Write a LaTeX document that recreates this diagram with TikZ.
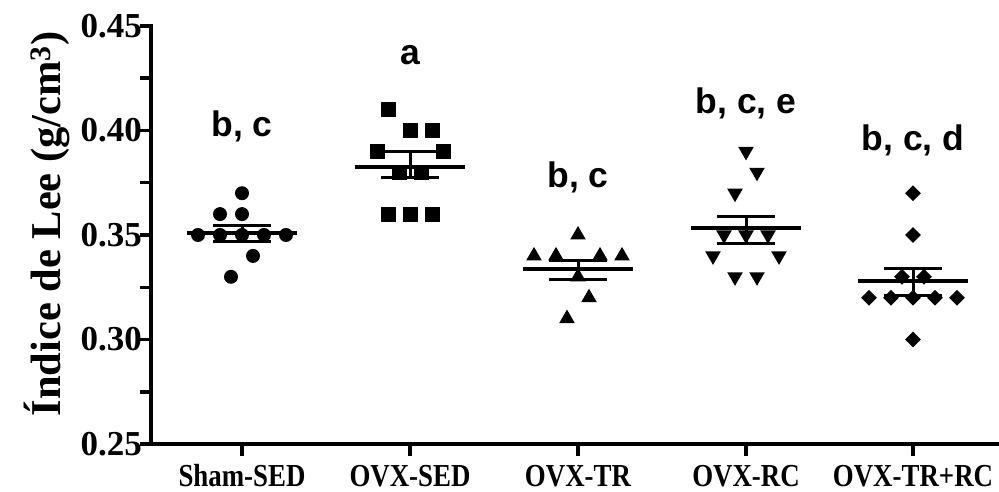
\documentclass[tikz,border=0pt]{standalone}
\usepackage{fontspec}
\setmainfont{Liberation Serif}
\newfontfamily\arialfont{Liberation Sans}
\usetikzlibrary{shapes.geometric}
\begin{document}
\begin{tikzpicture}[x=1pt,y=-1pt,
  axisline/.style={line width=4.2pt},
  tickline/.style={line width=3.5pt},
  meanline/.style={line width=3.2pt},
  semline/.style={line width=3pt},
  ticklab/.style={anchor=east,inner sep=0pt,font=\fontsize{35}{35}\selectfont\bfseries},
  grplab/.style={anchor=base,inner sep=0pt,font=\fontsize{32}{32}\selectfont\bfseries},
  siglab/.style={anchor=base,inner sep=0pt,font=\fontsize{35.5}{35.5}\selectfont\arialfont\bfseries},
  dotm/.style={circle,fill=black,inner sep=0pt,minimum size=14pt},
  sqm/.style={rectangle,fill=black,inner sep=0pt,minimum size=15pt},
  triup/.style={regular polygon,regular polygon sides=3,fill=black,inner sep=0pt,minimum size=18pt},
  tridn/.style={regular polygon,regular polygon sides=3,shape border rotate=180,fill=black,inner sep=0pt,minimum size=18pt},
  diam/.style={diamond,fill=black,inner sep=0pt,minimum width=16pt,minimum height=16pt}]
\useasboundingbox (0,0) rectangle (999,492);
% axes
\coordinate (ytop) at (151,26);
\coordinate (orig) at (151,444);
\coordinate (xend) at (999,444);
\draw[axisline,line cap=rect] (ytop) -- (orig) -- (xend);
% y ticks and labels
\foreach \v/\t [count=\i] in {0.45/0.45,0.40/0.40,0.35/0.35,0.30/0.30,0.25/0.25}{
  \coordinate (yt\i) at (151,{444-(\v-0.25)*2090});
  \coordinate (ytl\i) at (140,{444-(\v-0.25)*2090});
  \draw[tickline] (yt\i) -- (ytl\i);
  \node[ticklab] (ylab\i) at (142,{444-(\v-0.25)*2090}) {\t};
}
\foreach \v [count=\i] in {0.425,0.375,0.325,0.275}{
  \coordinate (ym\i) at (151,{444-(\v-0.25)*2090});
  \coordinate (yml\i) at (140,{444-(\v-0.25)*2090});
  \draw[tickline] (ym\i) -- (yml\i);
}
% y axis title
\node[rotate=90,anchor=base,inner sep=0pt,font=\fontsize{42.5}{42.5}\selectfont\bfseries] (ytitle) at (60,224) {Índice de Lee (g/cm$^{\mathbf{3}}$)};
% x ticks and labels
\foreach \c/\t [count=\i] in {242/Sham-SED,410/OVX-SED,578/OVX-TR,746/OVX-RC,913/OVX-TR+RC}{
  \coordinate (xt\i) at (\c,444);
  \coordinate (xtl\i) at (\c,456);
  \draw[tickline] (xt\i) -- (xtl\i);
  \node[grplab] (xlab\i) at (\c,486) {\scalebox{0.84}[1]{\t}};
}
% data: Sham-SED
\foreach \dx/\v [count=\i] in {0/0.37,-1/0.36,0/0.36,-2/0.35,-1/0.35,0/0.35,1/0.35,2/0.35,0.5/0.34,-0.5/0.33}{
  \node[dotm] (p1-\i) at ({242+22*\dx},{444-(\v-0.25)*2090}) {};
}
% OVX-SED
\foreach \dx/\v [count=\i] in {-1/0.41,0/0.40,1/0.40,-1.5/0.39,1.5/0.39,-0.5/0.38,0.5/0.38,-1/0.36,0/0.36,1/0.36}{
  \node[sqm] (p2-\i) at ({410+22*\dx},{444-(\v-0.25)*2090}) {};
}
% OVX-TR
\foreach \dx/\v [count=\i] in {0/0.35,-2/0.34,-1/0.34,1/0.34,2/0.34,0/0.33,0.5/0.32,-0.5/0.31}{
  \node[triup] (p3-\i) at ({578+22*\dx},{444-(\v-0.25)*2090}) {};
}
% OVX-RC
\foreach \dx/\v [count=\i] in {0/0.39,0.5/0.38,-0.5/0.37,-1/0.35,0/0.35,1/0.35,-1.5/0.34,1.5/0.34,-0.5/0.33,0.5/0.33}{
  \node[tridn] (p4-\i) at ({746+22*\dx},{444-(\v-0.25)*2090}) {};
}
% OVX-TR+RC
\foreach \dx/\v [count=\i] in {0/0.37,0/0.35,-0.5/0.33,0.5/0.33,-2/0.32,-1/0.32,0/0.32,1/0.32,2/0.32,0/0.30}{
  \node[diam] (p5-\i) at ({913+22*\dx},{444-(\v-0.25)*2090}) {};
}
% means and SEM
\foreach \c/\m/\hi/\lo [count=\i] in {242/233/225/241,410/167/152/178,578/269/260/279,746/228/216/243,913/281/268/295}{
  \coordinate (ml\i) at ({\c-55},\m);
  \coordinate (mr\i) at ({\c+55},\m);
  \coordinate (hl\i) at ({\c-29},\hi);
  \coordinate (hr\i) at ({\c+29},\hi);
  \coordinate (ll\i) at ({\c-29},\lo);
  \coordinate (lr\i) at ({\c+29},\lo);
  \coordinate (hc\i) at (\c,\hi);
  \coordinate (lc\i) at (\c,\lo);
  \draw[meanline] (ml\i) -- (mr\i);
  \draw[semline] (hl\i) -- (hr\i);
  \draw[semline] (ll\i) -- (lr\i);
  \draw[semline] (hc\i) -- (lc\i);
}
% significance letters
\node[siglab] (s1) at (242,137) {b, c};
\node[siglab] (s2) at (410,65) {a};
\node[siglab] (s3) at (578,187) {b, c};
\node[siglab] (s4) at (746,114) {b, c, e};
\node[siglab] (s5) at (913,151) {b, c, d};
\end{tikzpicture}
\end{document}
